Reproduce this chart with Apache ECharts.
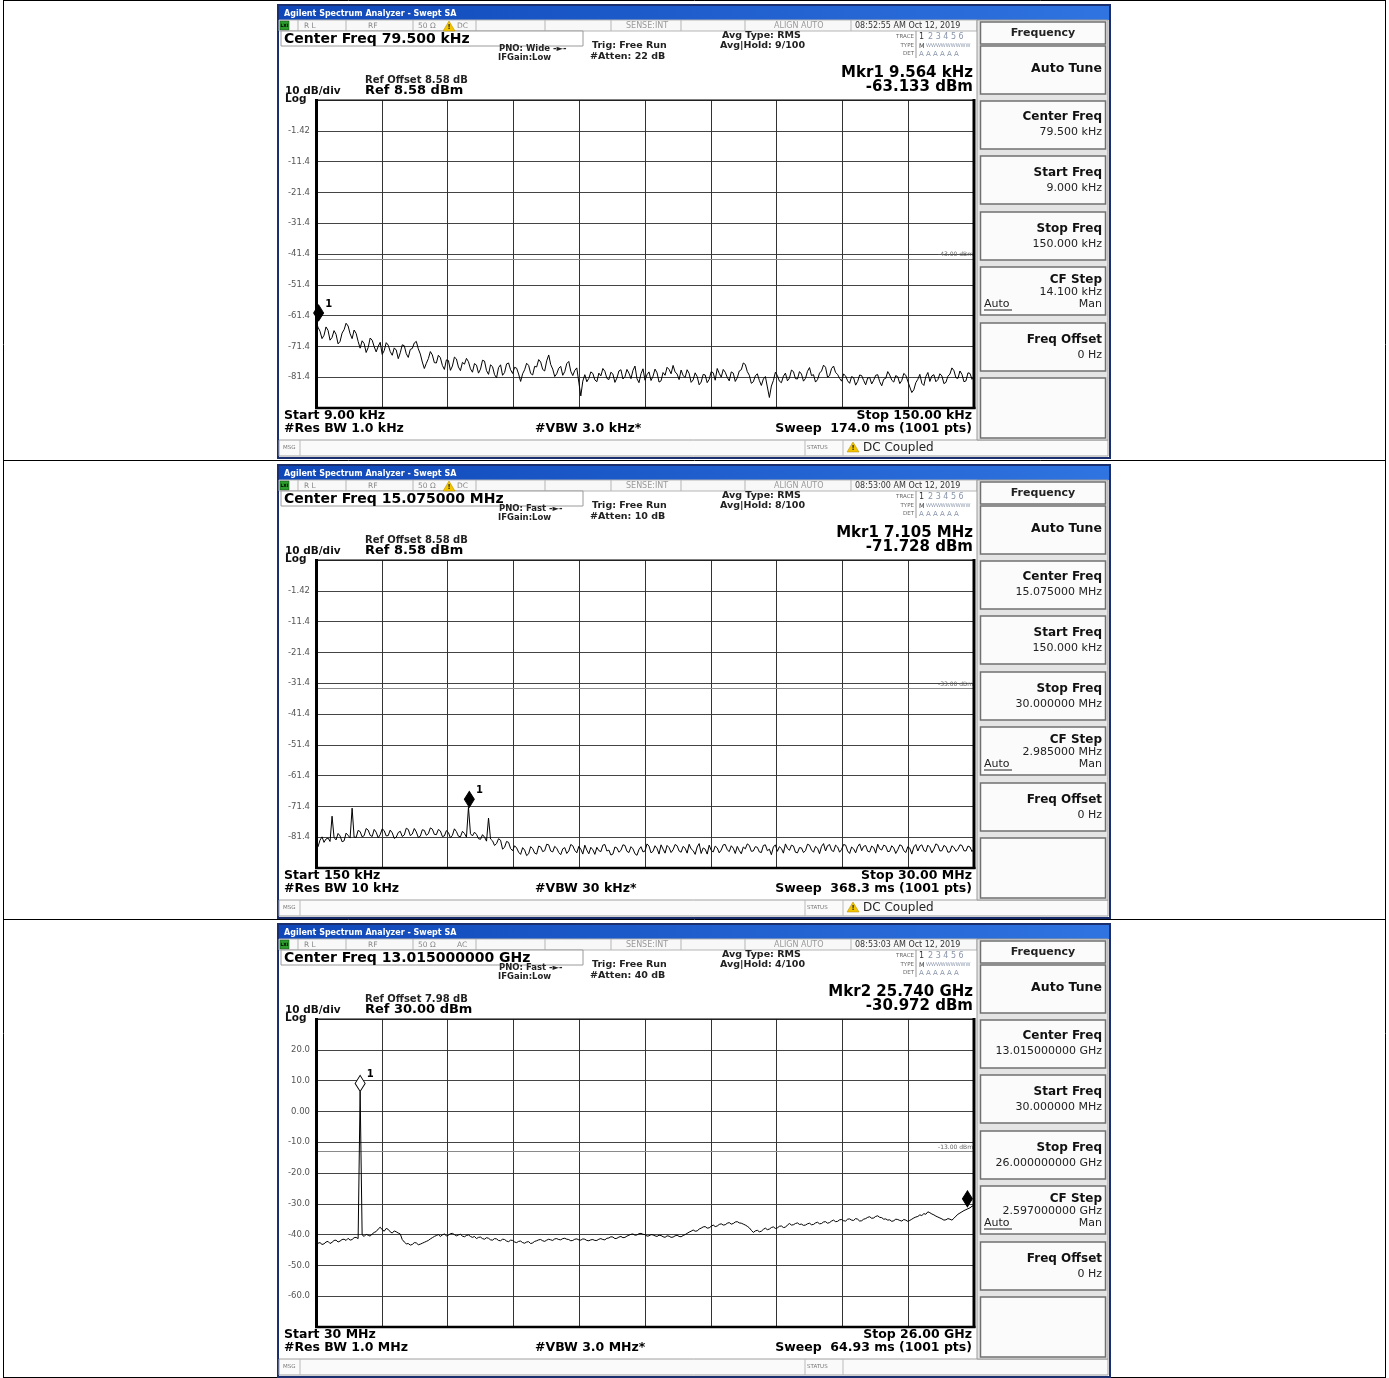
<!DOCTYPE html>
<html>
<head>
<meta charset="utf-8">
<script src="https://cdn.jsdelivr.net/npm/echarts@6/dist/echarts.min.js"></script>
<style>
  html, body { margin: 0; padding: 0; background: #fff; }
  #chart { width: 1389px; height: 1378px; }
</style>
</head>
<body>
<div id="chart"></div>
<script>
// sweep spans per screen (kHz, MHz, GHz)
const starts = [9, 0.15, 0.03]
const stops = [150, 30, 26]
const refLevels = [8.58, 8.58, 30]
const displayLines = [-43, -33, -13]

const trace1 = [
  -63.5, -65.2, -66.5, -68.9, -67.8, -65.1, -66.2, -69.4, -68.5, -66.3, -67.5, -70.6, -69.8, -67.1, -66.0, -63.9, -64.8, -67.3, -68.9, -66.1,
  -67.2, -69.8, -72.0, -69.6, -70.5, -73.4, -71.8, -68.7, -69.4, -71.5, -73.2, -71.4, -70.1, -74.0, -72.8, -70.2, -71.0, -73.1, -74.3, -71.9,
  -72.6, -75.4, -73.5, -70.9, -71.2, -73.8, -75.0, -72.4, -72.1, -70.3, -69.8, -72.2, -73.9, -76.5, -78.6, -76.9, -75.4, -73.1, -74.2, -76.7,
  -76.8, -74.3, -75.1, -77.6, -78.9, -75.8, -76.0, -79.2, -77.8, -74.9, -75.5, -78.1, -79.3, -76.6, -77.2, -75.3, -76.4, -78.7, -79.8, -77.0,
  -77.5, -80.1, -78.8, -75.9, -76.2, -79.3, -80.5, -77.4, -78.0, -80.6, -81.6, -78.3, -77.4, -80.8, -79.9, -77.1, -76.8, -79.0, -80.2, -78.2,
  -78.5, -80.4, -82.8, -80.3, -79.0, -76.9, -77.6, -80.2, -80.7, -77.9, -78.1, -75.7, -76.5, -78.9, -79.4, -76.1, -74.2, -77.3, -78.8, -81.2,
  -80.3, -78.5, -77.9, -80.8, -79.6, -77.0, -76.3, -79.5, -80.9, -79.2, -78.4, -83.0, -87.5, -82.7, -80.6, -82.9, -81.8, -79.7, -80.2, -82.3,
  -82.9, -80.1, -81.0, -78.6, -79.5, -81.8, -82.2, -79.8, -80.4, -83.1, -81.7, -79.4, -79.0, -82.0, -81.3, -78.9, -80.1, -81.9, -79.2, -77.8,
  -81.9, -83.2, -80.3, -78.7, -82.4, -80.6, -79.7, -82.5, -81.1, -78.8, -80.0, -83.0, -82.6, -79.9, -80.8, -78.2, -78.9, -80.3, -77.6, -79.7,
  -80.4, -82.2, -79.1, -80.9, -81.5, -79.0, -80.2, -83.1, -82.3, -80.0, -81.2, -83.9, -83.0, -80.5, -80.7, -83.2, -82.1, -79.6, -80.0, -82.4,
  -78.6, -80.2, -81.4, -78.9, -79.8, -81.5, -82.6, -79.7, -80.1, -82.8, -81.6, -79.4, -79.0, -76.8, -77.3, -79.6, -80.8, -83.4, -82.9, -81.0,
  -80.3, -82.5, -84.1, -82.0, -81.2, -84.6, -88.0, -84.3, -82.5, -79.8, -80.9, -82.7, -83.2, -81.1, -80.1, -82.6, -81.7, -79.1, -79.6, -81.9,
  -82.0, -79.6, -80.4, -82.7, -81.8, -79.5, -78.3, -80.9, -80.6, -83.0, -82.2, -80.1, -79.4, -77.5, -78.2, -81.4, -80.9, -78.6, -77.8, -79.9,
  -80.5, -81.8, -82.7, -80.4, -81.0, -82.6, -83.4, -81.2, -81.6, -84.0, -82.8, -80.7, -80.9, -82.5, -83.9, -81.7, -81.5, -83.6, -82.4, -80.8,
  -80.6, -82.9, -84.2, -82.1, -81.8, -79.6, -80.7, -82.4, -83.0, -80.9, -81.3, -83.5, -82.5, -80.2, -80.8, -82.7, -84.6, -86.4, -85.5, -83.2,
  -82.1, -80.5, -83.4, -84.1, -81.2, -79.9, -82.8, -81.0, -80.6, -82.9, -82.2, -80.3, -81.0, -83.5, -83.1, -81.1, -80.4, -78.4, -79.3, -81.6,
  -81.8, -79.4, -80.5, -82.9, -82.6, -80.0, -80.2, -82.1, -81.4
]

const trace2 = [
  -83.6, -84.5, -82.4, -81.3, -83.1, -82.0, -81.7, -82.8, -74.6, -81.5, -82.3, -80.2, -81.0, -82.9, -82.6, -80.1, -80.8, -81.7, -72.0, -81.4,
  -81.5, -79.2, -79.6, -81.3, -80.9, -78.6, -79.1, -80.8, -81.2, -78.9, -79.8, -81.6, -80.6, -78.7, -79.3, -81.0, -80.9, -79.1, -80.0, -81.8,
  -81.4, -79.9, -79.5, -81.2, -80.7, -78.5, -78.9, -80.9, -80.4, -78.6, -79.7, -81.5, -81.1, -79.0, -79.2, -80.8, -80.3, -78.4, -78.8, -80.5,
  -80.6, -78.9, -79.4, -81.2, -81.0, -79.3, -79.9, -81.6, -80.8, -78.7, -79.6, -81.1, -81.3, -79.5, -80.2, -81.4, -71.7, -80.3, -81.0, -79.8,
  -80.5, -81.9, -82.1, -80.6, -81.4, -82.7, -75.2, -82.0, -82.6, -84.1, -83.5, -81.9, -82.4, -85.3, -84.7, -82.8, -83.1, -85.1, -85.8, -84.2,
  -84.9, -86.3, -87.0, -84.8, -85.6, -87.4, -86.8, -84.5, -85.1, -86.6, -86.9, -84.3, -84.6, -86.1, -85.8, -83.7, -83.9, -85.9, -86.2, -84.4,
  -85.0, -86.4, -87.1, -85.2, -84.8, -86.7, -85.9, -83.8, -84.2, -85.7, -86.5, -84.4, -85.3, -86.9, -84.0, -85.6, -86.8, -84.7, -85.5, -87.0,
  -84.7, -85.8, -86.1, -84.0, -83.8, -85.9, -85.6, -87.2, -86.9, -84.6, -84.9, -86.3, -85.7, -83.9, -84.1, -86.0, -86.4, -84.5, -85.2, -86.8,
  -87.3, -85.4, -84.5, -86.2, -85.9, -83.6, -84.3, -86.5, -86.0, -84.2, -85.1, -86.9, -83.9, -85.3, -86.6, -84.1, -84.8, -86.4, -85.5, -83.8,
  -84.2, -85.9, -86.3, -84.4, -85.0, -86.6, -83.7, -85.2, -85.8, -87.0, -84.6, -83.5, -86.7, -84.9, -85.3, -86.9, -84.0, -85.7, -86.2, -84.3,
  -84.9, -86.5, -85.6, -83.9, -83.8, -85.5, -86.1, -84.2, -85.0, -86.7, -84.4, -85.8, -86.8, -84.6, -85.2, -83.6, -84.1, -86.0, -85.9, -84.5,
  -84.7, -86.2, -86.4, -84.1, -83.9, -85.8, -85.3, -87.1, -84.6, -83.9, -86.0, -84.5, -85.1, -86.6, -83.6, -85.0, -85.7, -84.0, -84.3, -86.3,
  -86.5, -84.8, -84.9, -86.4, -85.8, -83.7, -84.0, -85.6, -86.3, -84.4, -85.0, -86.8, -84.4, -83.5, -85.9, -84.2, -83.8, -85.7, -86.1, -84.0,
  -84.6, -86.3, -85.4, -83.8, -84.0, -85.9, -86.7, -84.6, -85.2, -86.5, -84.5, -83.6, -85.8, -84.4, -84.1, -86.0, -86.2, -84.3, -84.8, -86.6,
  -83.7, -85.2, -85.6, -84.0, -84.3, -86.1, -86.0, -84.2, -84.9, -86.7, -85.5, -83.9, -84.2, -85.8, -86.4, -84.5, -85.0, -86.9, -84.6, -83.8,
  -85.9, -84.3, -83.9, -85.7, -86.1, -84.0, -84.7, -86.5, -85.3, -83.6, -84.0, -85.9, -85.8, -84.1, -84.5, -86.3, -86.2, -84.2, -84.8, -86.0,
  -85.4, -83.9, -84.1, -85.8, -85.9, -84.3, -84.6, -86.1, -85.2
]

const trace3 = [
  -43.3, -42.8, -42.6, -43.2, -43.0, -42.4, -42.2, -42.9, -42.5, -41.9, -41.8, -42.4, -42.1, -41.6, -41.5, -41.9, -41.2, -41.8, -41.6, -41.0,
  -40.9, -41.3, 6.5, -40.1, -40.6, -39.9, -40.2, -40.5, -39.8, -39.3, -39.0, -38.2, -37.6, -38.4, -38.9, -38.0, -38.3, -39.1, -39.5, -38.8,
  -39.1, -39.5, -39.8, -41.6, -42.4, -43.0, -42.9, -43.4, -43.2, -42.6, -42.7, -43.3, -43.1, -42.8, -42.5, -42.2, -41.9, -41.4, -41.0, -40.6,
  -40.3, -40.0, -40.6, -40.1, -39.8, -40.4, -40.2, -39.7, -39.6, -40.0, -40.4, -40.1, -39.9, -40.5, -40.7, -40.3, -40.1, -40.6, -40.9, -40.6,
  -41.3, -40.9, -40.8, -41.3, -41.5, -41.0, -41.2, -41.7, -41.8, -41.3, -41.4, -41.9, -42.0, -41.5, -41.6, -42.1, -42.3, -41.8, -41.9, -42.4,
  -42.6, -42.2, -42.1, -42.6, -42.8, -42.4, -42.3, -42.9, -42.7, -42.2, -42.0, -41.7, -41.6, -42.0, -42.2, -41.8, -41.5, -41.7, -41.9, -41.4,
  -41.3, -41.6, -41.7, -41.3, -41.2, -41.5, -41.6, -42.0, -41.9, -41.5, -41.4, -41.7, -41.8, -41.4, -41.5, -41.9, -42.0, -41.7, -41.6, -41.9,
  -41.9, -41.5, -41.3, -41.6, -41.7, -41.2, -41.1, -40.7, -40.8, -41.3, -41.2, -40.8, -40.6, -41.0, -40.9, -40.5, -40.2, -39.9,
  -39.8, -40.2, -40.1, -39.7, -39.6, -39.9, -40.0, -40.5, -40.4, -40.0, -40.1, -40.4, -40.6, -40.2, -40.3, -40.7, -40.9, -40.4, -40.5, -40.9,
  -40.8, -40.4, -40.2, -40.6, -40.7, -40.3, -40.0, -39.6, -39.2, -38.9, -38.5, -38.9, -38.8, -38.2, -37.9, -37.5, -37.4, -37.9, -37.8, -37.3,
  -36.9, -37.4, -37.2, -36.7, -36.5, -36.9, -36.8, -36.3, -36.1, -36.6, -36.4, -35.9, -35.8, -36.2, -36.3, -36.6, -36.9, -37.3, -37.8, -38.6,
  -39.3, -38.8, -38.6, -39.1, -38.9, -38.3, -37.9, -38.4, -38.2, -37.7, -37.5, -38.0, -37.8, -37.3, -37.2, -37.7, -37.6, -36.9, -36.4, -36.9,
  -36.8, -36.4, -36.2, -36.7, -36.6, -37.0, -36.9, -36.5, -36.3, -36.8, -36.7, -36.2, -36.0, -36.5, -36.4, -35.9, -35.8, -36.3, -36.1, -35.6,
  -35.3, -35.8, -35.7, -35.2, -35.1, -35.5, -35.6, -35.0, -34.9, -35.3, -35.4, -34.8, -35.0, -35.6, -35.5, -35.0, -34.8, -34.4, -34.2, -34.7,
  -34.6, -34.1, -33.9, -34.4, -34.5, -35.0, -34.9, -35.3, -35.2, -35.7, -35.5, -35.0, -35.1, -35.4, -35.6, -35.1, -35.3, -35.7, -35.4, -35.0,
  -34.6, -34.3, -34.1, -33.6, -33.8, -33.2, -33.4, -32.6, -32.9, -33.3, -33.6, -34.0, -34.3, -34.6, -34.9, -35.3, -35.2, -34.8, -35.0, -35.3,
  -34.7, -34.0, -33.4, -33.0, -32.6, -32.2, -31.9, -31.6, -31.3, -30.8, -30.6
]

const markers1 = [{ n: '1', f: 9.564, dbm: -63.133, solid: true }]
const markers2 = [{ n: '1', f: 7.105, dbm: -71.728, solid: true }]
const markers3 = [{ n: '1', f: 1.772, dbm: 6.5, solid: false }, { n: '', f: 25.74, dbm: -30.972, solid: true }]

const screens = [
  {
    center: 'Center Freq 79.500 kHz', coupling: 'DC', pno: 'PNO: Wide', atten: '#Atten: 22 dB', hold: 'Avg|Hold: 9/100',
    time: '08:52:55 AM Oct 12, 2019', mkrF: 'Mkr1 9.564 kHz', mkrA: '-63.133 dBm', refOffset: 'Ref Offset 8.58 dB', ref: 'Ref 8.58 dBm',
    start: 'Start 9.00 kHz', rbw: '#Res BW 1.0 kHz', vbw: '#VBW 3.0 kHz*', stop: 'Stop 150.00 kHz', sweep: 'Sweep  174.0 ms (1001 pts)',
    keys: ['79.500 kHz', '9.000 kHz', '150.000 kHz', '14.100 kHz'], status: 'DC Coupled'
  },
  {
    center: 'Center Freq 15.075000 MHz', coupling: 'DC', pno: 'PNO: Fast', atten: '#Atten: 10 dB', hold: 'Avg|Hold: 8/100',
    time: '08:53:00 AM Oct 12, 2019', mkrF: 'Mkr1 7.105 MHz', mkrA: '-71.728 dBm', refOffset: 'Ref Offset 8.58 dB', ref: 'Ref 8.58 dBm',
    start: 'Start 150 kHz', rbw: '#Res BW 10 kHz', vbw: '#VBW 30 kHz*', stop: 'Stop 30.00 MHz', sweep: 'Sweep  368.3 ms (1001 pts)',
    keys: ['15.075000 MHz', '150.000 kHz', '30.000000 MHz', '2.985000 MHz'], status: 'DC Coupled'
  },
  {
    center: 'Center Freq 13.015000000 GHz', coupling: 'AC', pno: 'PNO: Fast', atten: '#Atten: 40 dB', hold: 'Avg|Hold: 4/100',
    time: '08:53:03 AM Oct 12, 2019', mkrF: 'Mkr2 25.740 GHz', mkrA: '-30.972 dBm', refOffset: 'Ref Offset 7.98 dB', ref: 'Ref 30.00 dBm',
    start: 'Start 30 MHz', rbw: '#Res BW 1.0 MHz', vbw: '#VBW 3.0 MHz*', stop: 'Stop 26.00 GHz', sweep: 'Sweep  64.93 ms (1001 pts)',
    keys: ['13.015000000 GHz', '30.000000 MHz', '26.000000000 GHz', '2.597000000 GHz'], status: ''
  }
]

const traces = [trace1, trace2, trace3]
const markers = [markers1, markers2, markers3]
const offsets = [0, 460, 919]

const FONT = '"DejaVu Sans", Verdana, sans-serif'

function txt(x, y, s, size, bold, color, align) {
  return {
    type: 'text', x, y, z: 30, silent: true,
    style: {
      text: s, font: (bold ? 'bold ' : '') + size + 'px ' + FONT,
      fill: color || '#111',
      textAlign: align || 'left', align: align || 'left',
      textVerticalAlign: 'middle', verticalAlign: 'middle'
    }
  }
}

function box(x, y, w, h, fill, stroke, lw, z) {
  return {
    type: 'rect', z: z == null ? -5 : z, silent: true,
    shape: { x, y, width: w, height: h },
    style: { fill: fill, stroke: stroke || null, lineWidth: lw || 1 }
  }
}

function seg(x1, y1, x2, y2, stroke, lw, z) {
  return {
    type: 'line', z: z == null ? -4 : z, silent: true,
    shape: { x1, y1, x2, y2 },
    style: { stroke, lineWidth: lw || 1 }
  }
}

function warnIcon(x, y) {
  return [
    { type: 'polygon', z: 29, silent: true, shape: { points: [[x, y + 10], [x + 6, y], [x + 12, y + 10]] }, style: { fill: '#f2c500', stroke: '#b08a00', lineWidth: 0.5 } },
    txt(x + 6, y + 6.5, '!', 7, true, '#222', 'center')
  ]
}

// the analyzer screen around each plot
function chrome(s, o) {
  const g = []
  g.push(box(278, o + 5, 832, 453, '#fff', '#1b2f6e', 2, -10))
  g.push({
    type: 'rect', z: -9, silent: true,
    shape: { x: 279, y: o + 6, width: 830, height: 14 },
    style: { fill: new echarts.graphic.LinearGradient(0, 0, 1, 0, [{ offset: 0, color: '#0f47b8' }, { offset: 1, color: '#2f74e0' }]) }
  })
  g.push(txt(284, o + 13.5, 'Agilent Spectrum Analyzer - Swept SA', 8, true, '#fff'))

  // status row
  g.push(box(279, o + 20, 698, 11, '#f8f8f8', '#b5b5b5', 1, -8))
  g.push(box(280, o + 21, 9, 9, '#2c9c2c', '#114411', 0.5, -7))
  g.push(txt(284.5, o + 25.5, 'LXI', 4.5, true, '#000', 'center'))
  ;[298, 346, 413, 476, 545, 611, 681, 745, 851].forEach(x => g.push(seg(x, o + 20, x, o + 31, '#b5b5b5', 1, -7)))
  g.push(txt(304, o + 26, 'R L', 7.5, false, '#888'))
  g.push(txt(368, o + 26, 'RF', 7.5, false, '#888'))
  g.push(txt(418, o + 26, '50 Ω', 7.5, false, '#888'))
  if (s.coupling === 'DC') g.push(...warnIcon(443, o + 21))
  g.push(txt(457, o + 26, s.coupling, 7.5, false, '#888'))
  g.push(txt(626, o + 26, 'SENSE:INT', 8, false, '#999'))
  g.push(txt(774, o + 26, 'ALIGN AUTO', 8, false, '#999'))
  g.push(txt(855, o + 26, s.time, 8, false, '#333'))

  // active function box
  g.push(box(281, o + 31, 302, 15, '#fff', '#9a9a9a', 1, -6))
  g.push(txt(284, o + 39, s.center, 14, true, '#000'))

  g.push(txt(499, o + 49, s.pno + ' -►-', 8.5, true, '#222'))
  g.push(txt(498, o + 58, 'IFGain:Low', 8.5, true, '#222'))
  g.push(txt(592, o + 46, 'Trig: Free Run', 9.5, true, '#222'))
  g.push(txt(590, o + 57, s.atten, 9.5, true, '#222'))
  g.push(txt(722, o + 36, 'Avg Type: RMS', 9.5, true, '#222'))
  g.push(txt(720, o + 46, s.hold, 9.5, true, '#222'))

  // trace table
  g.push(seg(916, o + 31, 916, o + 58, '#999', 1, -6))
  g.push(txt(914, o + 37, 'TRACE', 5.5, false, '#666', 'right'))
  g.push(txt(914, o + 46, 'TYPE', 5.5, false, '#666', 'right'))
  g.push(txt(914, o + 54, 'DET', 5.5, false, '#666', 'right'))
  g.push(txt(919, o + 37, '1', 8, false, '#333'))
  g.push(txt(928, o + 37, '2 3 4 5 6', 8, false, '#8895aa'))
  g.push(txt(919, o + 46, 'M', 6.5, false, '#333'))
  g.push(txt(926, o + 46, 'WWWWWWWWW', 5, false, '#8895aa'))
  g.push(txt(919, o + 54, 'A A A A A A', 7, false, '#8895aa'))

  g.push(txt(973, o + 73, s.mkrF, 15, true, '#000', 'right'))
  g.push(txt(973, o + 87, s.mkrA, 15, true, '#000', 'right'))
  g.push(txt(365, o + 80, s.refOffset, 10, true, '#222'))
  g.push(txt(365, o + 91, s.ref, 13, true, '#000'))
  g.push(txt(285, o + 91, '10 dB/div', 10.5, true, '#111'))
  g.push(txt(285, o + 99, 'Log', 10.5, true, '#111'))

  // plot frame
  g.push(seg(316, o + 100, 974, o + 100, '#000', 1, 40))
  g.push(seg(316.5, o + 99, 316.5, o + 409, '#000', 3, 40))
  g.push(seg(974, o + 99, 974, o + 409, '#000', 3, 40))
  g.push(seg(315, o + 408, 975.5, o + 408, '#000', 2.5, 40))

  // bottom annotations
  g.push(txt(284, o + 416, s.start, 12.5, true, '#000'))
  g.push(txt(284, o + 429, s.rbw, 12.5, true, '#000'))
  g.push(txt(535, o + 429, s.vbw, 12.5, true, '#000'))
  g.push(txt(972, o + 416, s.stop, 12.5, true, '#000', 'right'))
  g.push(txt(972, o + 429, s.sweep, 12.5, true, '#000', 'right'))

  // message bar
  g.push(box(279, o + 440, 829, 16, '#fafafa', '#a0a0a0', 1, -8))
  g.push(seg(300, o + 440, 300, o + 456, '#bbb', 1, -7))
  g.push(txt(283, o + 448, 'MSG', 5.5, false, '#777'))
  g.push(seg(805, o + 440, 805, o + 456, '#bbb', 1, -7))
  g.push(seg(843, o + 440, 843, o + 456, '#bbb', 1, -7))
  g.push(txt(807, o + 448, 'STATUS', 5.5, false, '#777'))
  if (s.status) {
    g.push(...warnIcon(847, o + 442))
    g.push(txt(863, o + 448, s.status, 12, false, '#222'))
  }

  // softkey column
  g.push(box(977, o + 20, 131, 420, '#e4e4e4', '#9a9a9a', 1, -8))
  const keyBox = (y1, y2) => g.push(box(980.5, o + y1, 125, y2 - y1, '#fbfbfb', '#707070', 1.5, -7))
  keyBox(22, 44)
  g.push(txt(1043, o + 33, 'Frequency', 11, true, '#222', 'center'))
  keyBox(46, 94)
  g.push(txt(1102, o + 69, 'Auto Tune', 12.5, true, '#111', 'right'))
  keyBox(101, 149)
  g.push(txt(1102, o + 117, 'Center Freq', 12, true, '#111', 'right'))
  g.push(txt(1102, o + 132, s.keys[0], 11, false, '#222', 'right'))
  keyBox(156, 204)
  g.push(txt(1102, o + 173, 'Start Freq', 12, true, '#111', 'right'))
  g.push(txt(1102, o + 188, s.keys[1], 11, false, '#222', 'right'))
  keyBox(212, 260)
  g.push(txt(1102, o + 229, 'Stop Freq', 12, true, '#111', 'right'))
  g.push(txt(1102, o + 244, s.keys[2], 11, false, '#222', 'right'))
  keyBox(267, 315)
  g.push(txt(1102, o + 280, 'CF Step', 12, true, '#111', 'right'))
  g.push(txt(1102, o + 292, s.keys[3], 11, false, '#222', 'right'))
  g.push(txt(984, o + 304, 'Auto', 11, false, '#222'))
  g.push(seg(984, o + 310, 1012, o + 310, '#222', 1, 31))
  g.push(txt(1102, o + 304, 'Man', 11, false, '#222', 'right'))
  keyBox(323, 371)
  g.push(txt(1102, o + 340, 'Freq Offset', 12, true, '#111', 'right'))
  g.push(txt(1102, o + 355, '0 Hz', 11, false, '#222', 'right'))
  keyBox(378, 438)
  return g
}

const option = {
  animation: false,
  backgroundColor: '#fff',
  grid: [], xAxis: [], yAxis: [], series: [],
  graphic: { elements: [] }
}

// table lines around the three screenshots
option.graphic.elements.push(
  seg(3.5, 0, 3.5, 1378, '#000', 1, -20),
  seg(1385.5, 0, 1385.5, 1378, '#000', 1, -20),
  seg(3, 0.5, 1386, 0.5, '#000', 1, -20),
  seg(3, 460.5, 1386, 460.5, '#000', 1, -20),
  seg(3, 919.5, 1386, 919.5, '#000', 1, -20),
  seg(3, 1377.5, 1386, 1377.5, '#000', 1, -20)
)

for (let i = 0; i < 3; i++) {
  const o = offsets[i]
  const start = starts[i], stop = stops[i], ref = refLevels[i]
  const tr = traces[i]
  option.grid.push({ left: 316, top: o + 100, width: 658, height: 308 })
  option.xAxis.push({
    type: 'value', gridIndex: i, min: start, max: stop, interval: (stop - start) / 10,
    axisLine: { show: false }, axisTick: { show: false }, axisLabel: { show: false },
    splitLine: { show: true, lineStyle: { color: '#333', width: 1 } }
  })
  option.yAxis.push({
    type: 'value', gridIndex: i, min: ref - 100, max: ref, interval: 10,
    axisLine: { show: false }, axisTick: { show: false },
    axisLabel: {
      show: true, showMinLabel: false, showMaxLabel: false, margin: 6,
      fontFamily: FONT, fontSize: 8.5, color: '#555',
      formatter: v => (+v).toPrecision(3)
    },
    splitLine: { show: true, lineStyle: { color: '#444', width: 1 } }
  })
  const dl = displayLines[i]
  option.series.push({
    type: 'line', xAxisIndex: i, yAxisIndex: i,
    data: tr.map((v, k) => [start + k * (stop - start) / (tr.length - 1), v]),
    showSymbol: false, symbol: 'none',
    lineStyle: { color: '#000', width: 1 },
    z: 5,
    markLine: {
      silent: true, symbol: 'none',
      lineStyle: { color: '#8a8a8a', width: 1, type: 'solid' },
      label: { position: 'insideEndTop', formatter: dl.toFixed(2) + ' dBm', fontSize: 6, color: '#666', fontFamily: FONT, distance: 1 },
      data: [{ yAxis: dl }]
    },
    markPoint: {
      silent: true,
      data: markers[i].map(m => ({
        coord: [m.f, m.dbm],
        symbol: 'diamond', symbolSize: [10, 16], symbolOffset: [0, '-50%'],
        itemStyle: { color: m.solid ? '#000' : '#fff', borderColor: '#000', borderWidth: 1 },
        label: { show: !!m.n, formatter: m.n, position: [12, -5], fontSize: 10, fontWeight: 'bold', color: '#000', fontFamily: FONT }
      }))
    }
  })
  option.graphic.elements.push(...chrome(screens[i], o))
}

const chart = echarts.init(document.getElementById('chart'), null, { renderer: 'canvas' })
chart.setOption(option)
</script>
</body>
</html>
